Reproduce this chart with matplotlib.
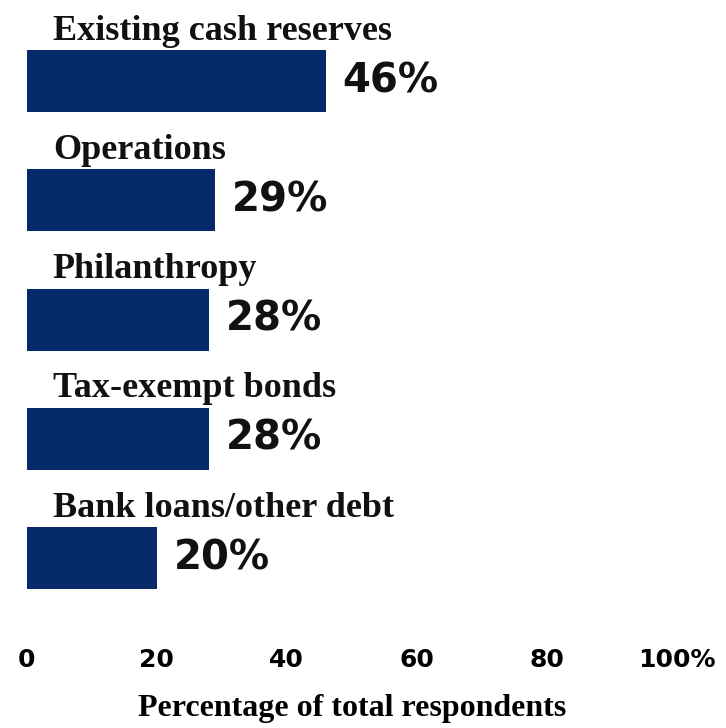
import matplotlib.pyplot as plt

categories = ["Existing cash reserves", "Operations", "Philanthropy",
              "Tax-exempt bonds", "Bank loans/other debt"]
values = [46, 29, 28, 28, 20]
tick_vals = [0, 20, 40, 60, 80, 100]
tick_labels = ["0", "20", "40", "60", "80", "100%"]

bar_color = "#06296a"

fig = plt.figure(figsize=(7.26, 7.28), dpi=100)
ax = fig.add_axes([0.037, 0.135, 0.895, 0.865])

ypos = list(range(len(categories)))
ax.barh(ypos, values, height=0.52, color=bar_color)

for y, cat, v in zip(ypos, categories, values):
    ax.text(4.0, y - 0.42, cat, ha="left", va="center", fontsize=26,
            fontweight="bold", family="Liberation Serif", color="#111111")
    ax.annotate(f"{v}%", (v, y), xytext=(12, 0), textcoords="offset points",
                ha="left", va="center", fontsize=29, fontweight="bold",
                family="DejaVu Sans", color="#111111")

ax.set_xlim(0, 100)
ax.set_ylim(4.6, -0.68)
ax.set_xticks(tick_vals)
ax.set_xticklabels(tick_labels, fontsize=18, fontweight="bold", family="DejaVu Sans")
ax.tick_params(axis="x", length=0, pad=13)
ax.set_yticks([])
for s in ax.spines.values():
    s.set_visible(False)
ax.set_xlabel("Percentage of total respondents", fontsize=23, fontweight="bold",
              family="Liberation Serif", labelpad=16)

fig.savefig("out.png", dpi=100)
